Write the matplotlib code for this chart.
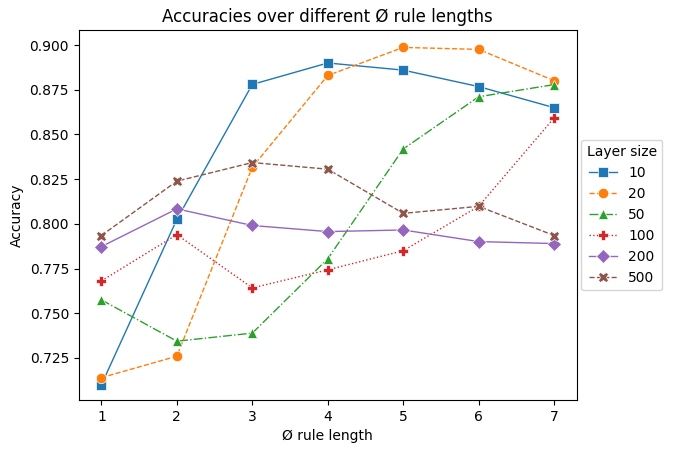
import numpy as np
import matplotlib
matplotlib.use("Agg")
import matplotlib.pyplot as plt

rule_lengths = [1, 2, 3, 4, 5, 6, 7]
layer_sizes = ["10", "20", "50", "100", "200", "500"]

acc_10 = [0.710, 0.8025, 0.878, 0.890, 0.886, 0.8768, 0.865]
acc_20 = [0.714, 0.726, 0.8317, 0.883, 0.8987, 0.8976, 0.8801]
acc_50 = [0.7575, 0.7344, 0.7389, 0.7805, 0.8419, 0.8711, 0.8779]
acc_100 = [0.7681, 0.794, 0.7642, 0.7743, 0.785, 0.8098, 0.8593]
acc_200 = [0.7873, 0.8084, 0.7991, 0.7957, 0.7966, 0.7901, 0.789]
acc_500 = [0.7935, 0.8239, 0.8343, 0.8306, 0.8059, 0.8098, 0.7935]

series = [acc_10, acc_20, acc_50, acc_100, acc_200, acc_500]
colors = ["#1f77b4", "#ff7f0e", "#2ca02c", "#d62728", "#9467bd", "#8c564b"]
markers = ["s", "o", "^", "P", "D", "X"]
styles = ["-", "--", "-.", ":", "-", "--"]

fig = plt.figure(figsize=(6.73, 4.53), dpi=100)
ax = fig.add_axes([0.117, 0.117, 0.740, 0.817])

for vals, lab, c, m, ls in zip(series, layer_sizes, colors, markers, styles):
    ax.plot(rule_lengths, vals, color=c, marker=m, linestyle=ls, linewidth=1,
            markersize=7.5, markeredgecolor="white", markeredgewidth=0.5, label=lab)

ax.set_xticks(rule_lengths)
ax.set_yticks([0.725, 0.750, 0.775, 0.800, 0.825, 0.850, 0.875, 0.900])
ax.set_ylim(0.7015, 0.9085)
ax.set_xlim(0.7, 7.3)
ax.set_xlabel("Ø rule length")
ax.set_ylabel("Accuracy")
ax.set_title("Accuracies over different Ø rule lengths")
ax.legend(title="Layer size", loc="center left", bbox_to_anchor=(0.995, 0.5))

fig.savefig("out.png", dpi=100)
